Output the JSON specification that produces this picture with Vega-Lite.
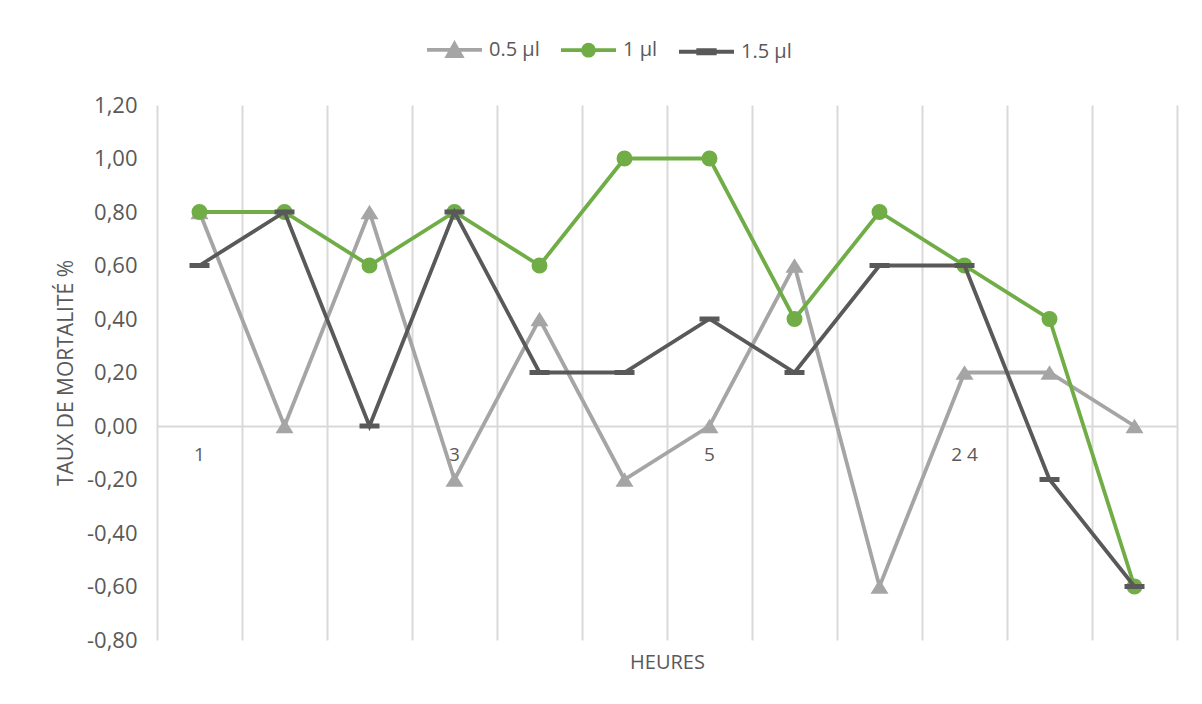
{
  "$schema": "https://vega.github.io/schema/vega-lite/v6.json",
  "width": 1020,
  "height": 535,
  "autosize": {"type": "none"},
  "padding": {"left": 157, "top": 105, "right": 25, "bottom": 64},
  "background": "#ffffff",
  "config": {
    "font": "Open Sans",
    "view": {"stroke": null},
    "axis": {"labelColor": "#595959", "titleColor": "#595959", "titleFontWeight": "normal"},
    "legend": {
      "title": null, "orient": "none", "direction": "horizontal",
      "legendX": 268, "legendY": -85, "padding": 0,
      "symbolSize": 3025, "labelFontSize": 20, "labelColor": "#595959",
      "labelOffset": 5, "columnPadding": 13
    }
  },
  "data": {
    "values": [
      {"s": "0.5 µl", "h": 1, "v": 0.8}, {"s": "0.5 µl", "h": 2, "v": 0}, {"s": "0.5 µl", "h": 3, "v": 0.8},
      {"s": "0.5 µl", "h": 4, "v": -0.2}, {"s": "0.5 µl", "h": 5, "v": 0.4}, {"s": "0.5 µl", "h": 6, "v": -0.2},
      {"s": "0.5 µl", "h": 7, "v": 0}, {"s": "0.5 µl", "h": 8, "v": 0.6}, {"s": "0.5 µl", "h": 9, "v": -0.6},
      {"s": "0.5 µl", "h": 10, "v": 0.2}, {"s": "0.5 µl", "h": 11, "v": 0.2}, {"s": "0.5 µl", "h": 12, "v": 0},
      {"s": "1 µl", "h": 1, "v": 0.8}, {"s": "1 µl", "h": 2, "v": 0.8}, {"s": "1 µl", "h": 3, "v": 0.6},
      {"s": "1 µl", "h": 4, "v": 0.8}, {"s": "1 µl", "h": 5, "v": 0.6}, {"s": "1 µl", "h": 6, "v": 1.0},
      {"s": "1 µl", "h": 7, "v": 1.0}, {"s": "1 µl", "h": 8, "v": 0.4}, {"s": "1 µl", "h": 9, "v": 0.8},
      {"s": "1 µl", "h": 10, "v": 0.6}, {"s": "1 µl", "h": 11, "v": 0.4}, {"s": "1 µl", "h": 12, "v": -0.6},
      {"s": "1.5 µl", "h": 1, "v": 0.6}, {"s": "1.5 µl", "h": 2, "v": 0.8}, {"s": "1.5 µl", "h": 3, "v": 0},
      {"s": "1.5 µl", "h": 4, "v": 0.8}, {"s": "1.5 µl", "h": 5, "v": 0.2}, {"s": "1.5 µl", "h": 6, "v": 0.2},
      {"s": "1.5 µl", "h": 7, "v": 0.4}, {"s": "1.5 µl", "h": 8, "v": 0.2}, {"s": "1.5 µl", "h": 9, "v": 0.6},
      {"s": "1.5 µl", "h": 10, "v": 0.6}, {"s": "1.5 µl", "h": 11, "v": -0.2}, {"s": "1.5 µl", "h": 12, "v": -0.6}
    ]
  },
  "encoding": {
    "x": {
      "field": "h", "type": "quantitative",
      "scale": {"domain": [0.5, 12.5], "nice": false, "zero": false},
      "axis": {
        "values": [0.5, 1.5, 2.5, 3.5, 4.5, 5.5, 6.5, 7.5, 8.5, 9.5, 10.5, 11.5, 12.5],
        "grid": true, "gridColor": "#d9d9d9", "gridWidth": 2,
        "labels": false, "ticks": false, "domain": false, "labelPadding": 0,
        "title": "HEURES", "titleFontSize": 20, "titlePadding": 12
      }
    },
    "y": {
      "field": "v", "type": "quantitative",
      "scale": {"domain": [-0.8, 1.2], "nice": false, "zero": false},
      "axis": {
        "values": [-0.8, -0.6, -0.4, -0.2, 0, 0.2, 0.4, 0.6, 0.8, 1.0, 1.2],
        "labelExpr": "(datum.value < 0 ? '-' : '') + replace(format(abs(datum.value), '.2f'), '.', ',')",
        "grid": true, "gridColor": "#d9d9d9", "gridWidth": 2,
        "gridOpacity": {"condition": {"test": "datum.value === 0", "value": 1}, "value": 0},
        "ticks": false, "domain": false, "labelPadding": 20, "labelFontSize": 22,
        "title": "TAUX DE MORTALITÉ %", "titleFontSize": 21, "titlePadding": 10
      }
    }
  },
  "layer": [
    {
      "data": {"values": [
        {"h": 1, "v": 0, "lab": "1"}, {"h": 4, "v": 0, "lab": "3"},
        {"h": 7, "v": 0, "lab": "5"}, {"h": 10, "v": 0, "lab": "2 4"}
      ]},
      "mark": {"type": "text", "fontSize": 19, "color": "#595959", "baseline": "middle", "align": "center", "dy": 29},
      "encoding": {"text": {"field": "lab"}}
    },
    {
      "transform": [{"filter": "datum.s === '0.5 µl'"}],
      "mark": {"type": "line", "strokeWidth": 3.8},
      "encoding": {
        "color": {
          "field": "s", "type": "nominal",
          "scale": {"domain": ["0.5 µl", "1 µl", "1.5 µl"], "range": ["#a5a5a5", "#70ad47", "#595959"]},
          "legend": {
            "title": null,
            "encode": {
              "symbols": {
                "update": {
                  "shape": {"signal": "datum.value === '0.5 µl' ? 'M-1,0H1M0,-0.22L0.25,0.22L-0.25,0.22Z' : datum.value === '1 µl' ? 'M-1,0H1M0.2,0A0.2,0.2 0 1 1 -0.2,0A0.2,0.2 0 1 1 0.2,0Z' : 'M-1,0H1M-0.3,-0.06H0.3V0.06H-0.3Z'"},
                  "fill": {"signal": "scale('color', datum.value)"},
                  "stroke": {"signal": "scale('color', datum.value)"},
                  "strokeWidth": {"value": 3.8},
                  "opacity": {"value": 1}
                }
              }
            }
          }
        }
      }
    },
    {
      "transform": [{"filter": "datum.s === '0.5 µl'"}],
      "mark": {"type": "point", "filled": true, "opacity": 1, "strokeWidth": 0, "color": "#a5a5a5", "shape": "M0,-0.8L1,0.8L-1,0.8Z", "size": 324}
    },
    {
      "transform": [{"filter": "datum.s === '1 µl'"}],
      "mark": {"type": "line", "strokeWidth": 3.8},
      "encoding": {
        "color": {
          "field": "s", "type": "nominal",
          "scale": {"domain": ["0.5 µl", "1 µl", "1.5 µl"], "range": ["#a5a5a5", "#70ad47", "#595959"]},
          "legend": {
            "title": null,
            "encode": {
              "symbols": {
                "update": {
                  "shape": {"signal": "datum.value === '0.5 µl' ? 'M-1,0H1M0,-0.22L0.25,0.22L-0.25,0.22Z' : datum.value === '1 µl' ? 'M-1,0H1M0.2,0A0.2,0.2 0 1 1 -0.2,0A0.2,0.2 0 1 1 0.2,0Z' : 'M-1,0H1M-0.3,-0.06H0.3V0.06H-0.3Z'"},
                  "fill": {"signal": "scale('color', datum.value)"},
                  "stroke": {"signal": "scale('color', datum.value)"},
                  "strokeWidth": {"value": 3.8},
                  "opacity": {"value": 1}
                }
              }
            }
          }
        }
      }
    },
    {
      "transform": [{"filter": "datum.s === '1 µl'"}],
      "mark": {"type": "point", "filled": true, "opacity": 1, "strokeWidth": 0, "color": "#70ad47", "shape": "circle", "size": 254}
    },
    {
      "transform": [{"filter": "datum.s === '1.5 µl'"}],
      "mark": {"type": "line", "strokeWidth": 3.8},
      "encoding": {
        "color": {
          "field": "s", "type": "nominal",
          "scale": {"domain": ["0.5 µl", "1 µl", "1.5 µl"], "range": ["#a5a5a5", "#70ad47", "#595959"]},
          "legend": {
            "title": null,
            "encode": {
              "symbols": {
                "update": {
                  "shape": {"signal": "datum.value === '0.5 µl' ? 'M-1,0H1M0,-0.22L0.25,0.22L-0.25,0.22Z' : datum.value === '1 µl' ? 'M-1,0H1M0.2,0A0.2,0.2 0 1 1 -0.2,0A0.2,0.2 0 1 1 0.2,0Z' : 'M-1,0H1M-0.3,-0.06H0.3V0.06H-0.3Z'"},
                  "fill": {"signal": "scale('color', datum.value)"},
                  "stroke": {"signal": "scale('color', datum.value)"},
                  "strokeWidth": {"value": 3.8},
                  "opacity": {"value": 1}
                }
              }
            }
          }
        }
      }
    },
    {
      "transform": [{"filter": "datum.s === '1.5 µl'"}],
      "mark": {"type": "point", "filled": true, "opacity": 1, "strokeWidth": 0, "color": "#595959", "shape": "M-1,-0.25H1V0.25H-1Z", "size": 400}
    }
  ]
}
